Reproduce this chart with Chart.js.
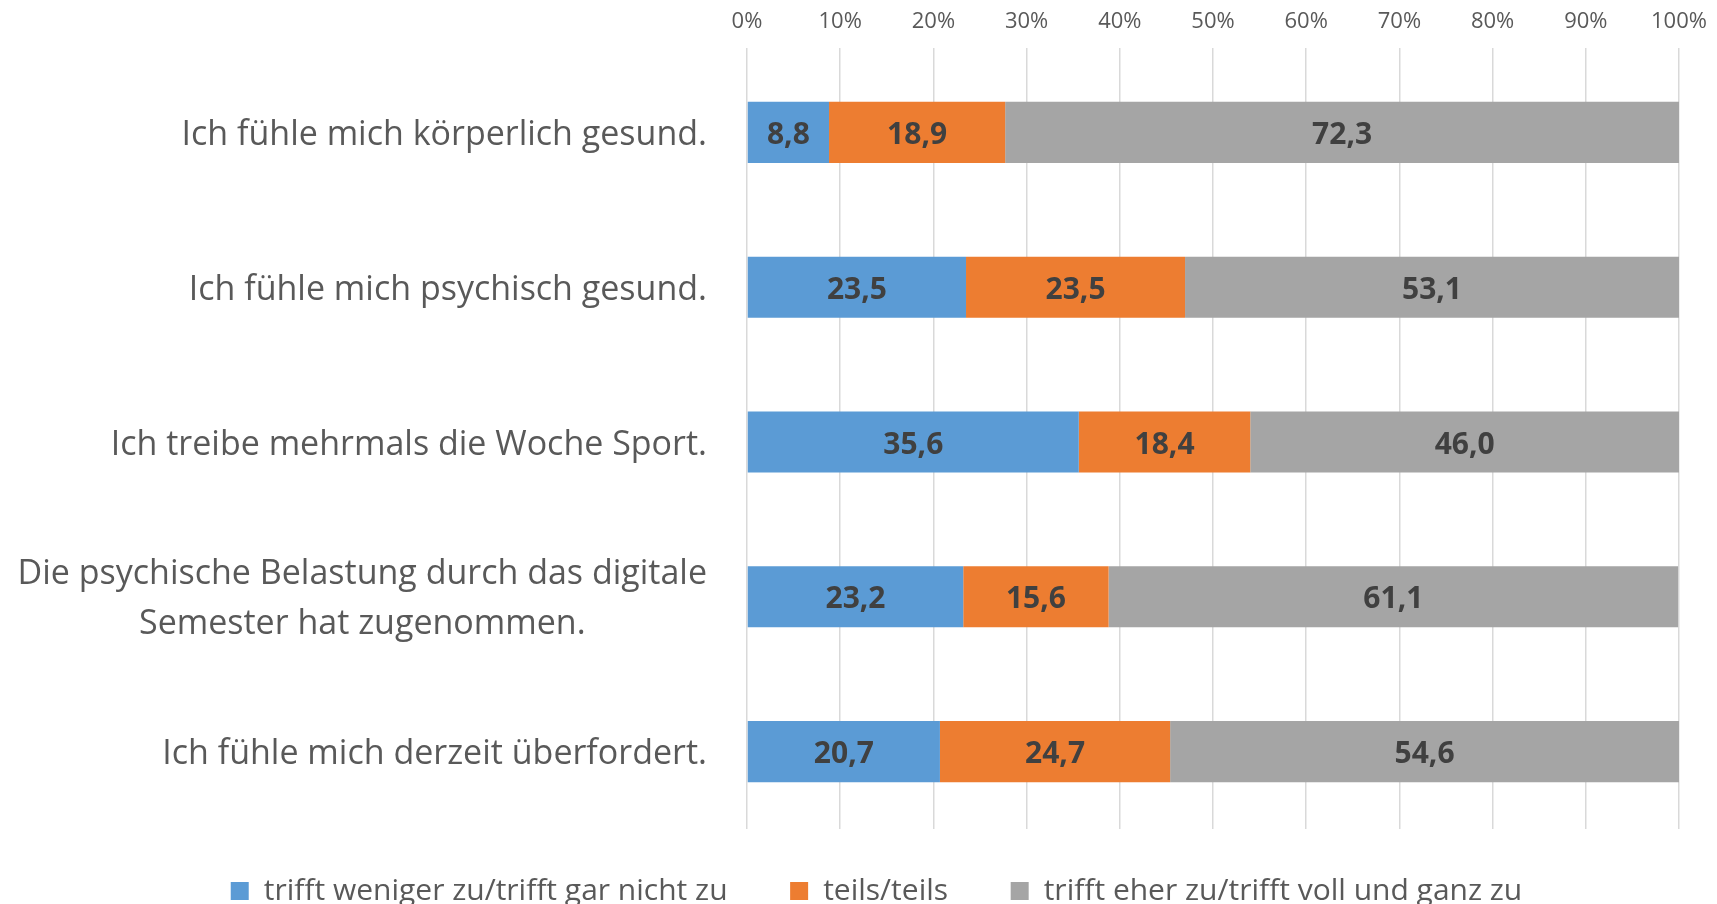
<!DOCTYPE html>
<html><head><meta charset="utf-8">
<script src="https://cdn.jsdelivr.net/npm/chart.js@4.4.1/dist/chart.umd.min.js"></script>
<style>html,body{margin:0;padding:0;background:#fff;overflow:hidden}</style>
</head><body>
<canvas id="c" width="1717" height="904" style="width:1717px;height:904px;display:block"></canvas>
<script>
const categories = [
  ["Ich fühle mich körperlich gesund."],
  ["Ich fühle mich psychisch gesund."],
  ["Ich treibe mehrmals die Woche Sport."],
  ["Die psychische Belastung durch das digitale", "Semester hat zugenommen."],
  ["Ich fühle mich derzeit überfordert."]
];
const seriesNames = ["trifft weniger zu/trifft gar nicht zu", "teils/teils", "trifft eher zu/trifft voll und ganz zu"];
const lowValues  = [8.8, 23.5, 35.6, 23.2, 20.7];
const midValues  = [18.9, 23.5, 18.4, 15.6, 24.7];
const highValues = [72.3, 53.1, 46.0, 61.1, 54.6];
const tickValues = [0, 10, 20, 30, 40, 50, 60, 70, 80, 90, 100];
const tickLabels = ["0%", "10%", "20%", "30%", "40%", "50%", "60%", "70%", "80%", "90%", "100%"];
const colors = ["#5B9BD5", "#ED7D31", "#A5A5A5"];

const FONT = "'Open Sans', 'Noto Sans', sans-serif";
const TEXT = "#595959";
const LEFT_PAD = 74;

const yLabelPlugin = {
  id: 'yLabels',
  afterDraw(chart) {
    const ctx = chart.ctx;
    const y = chart.scales.y;
    const right = chart.chartArea.left - 40;
    ctx.save();
    ctx.font = "34px " + FONT;
    ctx.fillStyle = TEXT;
    ctx.textBaseline = 'middle';
    const lh = 50;
    categories.forEach((lines, i) => {
      const cy = y.getPixelForValue(i) + 3;
      const widths = lines.map(l => ctx.measureText(l).width);
      const maxW = Math.max(...widths);
      const cx = right - maxW / 2;
      ctx.textAlign = 'center';
      lines.forEach((l, k) => {
        const ly = cy + (k - (lines.length - 1) / 2) * lh;
        ctx.fillText(l, cx, ly);
      });
    });
    ctx.restore();
  }
};

const valueLabelPlugin = {
  id: 'valueLabels',
  afterDatasetsDraw(chart) {
    const ctx = chart.ctx;
    ctx.save();
    ctx.font = "bold 30px " + FONT;
    ctx.fillStyle = "#404040";
    ctx.textAlign = 'center';
    ctx.textBaseline = 'middle';
    chart.data.datasets.forEach((ds, di) => {
      const meta = chart.getDatasetMeta(di);
      meta.data.forEach((el, i) => {
        const v = ds.data[i];
        const x0 = Math.max(el.base, chart.chartArea.left);
        const x1 = Math.min(el.x, chart.chartArea.right);
        ctx.fillText(v.toFixed(1).replace('.', ','), (x0 + x1) / 2, el.y + 3);
      });
    });
    ctx.restore();
  }
};

const legendGap = "  ";

new Chart(document.getElementById('c'), {
  type: 'bar',
  data: {
    labels: categories,
    datasets: [
      { label: seriesNames[0], data: lowValues, backgroundColor: colors[0] },
      { label: seriesNames[1], data: midValues, backgroundColor: colors[1] },
      { label: seriesNames[2], data: highValues, backgroundColor: colors[2] }
    ]
  },
  options: {
    indexAxis: 'y',
    responsive: false,
    animation: false,
    devicePixelRatio: 1,
    layout: { padding: { top: 7, right: 38, left: LEFT_PAD, bottom: -12 } },
    datasets: { bar: { categoryPercentage: 1, barPercentage: 0.395 } },
    scales: {
      x: {
        position: 'top',
        stacked: true,
        min: 0, max: 100,
        afterBuildTicks(scale) { scale.ticks = tickValues.map(v => ({ value: v })); },
        afterFit(scale) { scale.height = 48; scale.paddingRight = 0; scale.paddingLeft = 0; },
        ticks: {
          callback: (v, i) => tickLabels[i],
          font: { family: FONT, size: 22 },
          color: TEXT,
          padding: 13,
          maxRotation: 0
        },
        grid: { color: '#D9D9D9', lineWidth: 1.5, tickLength: 7, drawTicks: true },
        border: { display: false }
      },
      y: {
        stacked: true,
        ticks: { display: false },
        grid: { display: false },
        border: { display: false },
        afterFit(scale) { scale.width = 747 - LEFT_PAD; }
      }
    },
    plugins: {
      legend: {
        position: 'bottom',
        labels: {
          boxWidth: 18, boxHeight: 18,
          padding: 47,
          color: TEXT,
          font: { family: FONT, size: 30 },
          generateLabels(chart) {
            const items = Chart.defaults.plugins.legend.labels.generateLabels(chart);
            items.forEach((it, i) => { if (i < items.length - 1) it.text = it.text + legendGap; });
            return items;
          }
        }
      },
      tooltip: { enabled: false }
    }
  },
  plugins: [yLabelPlugin, valueLabelPlugin]
});
</script>
</body></html>
